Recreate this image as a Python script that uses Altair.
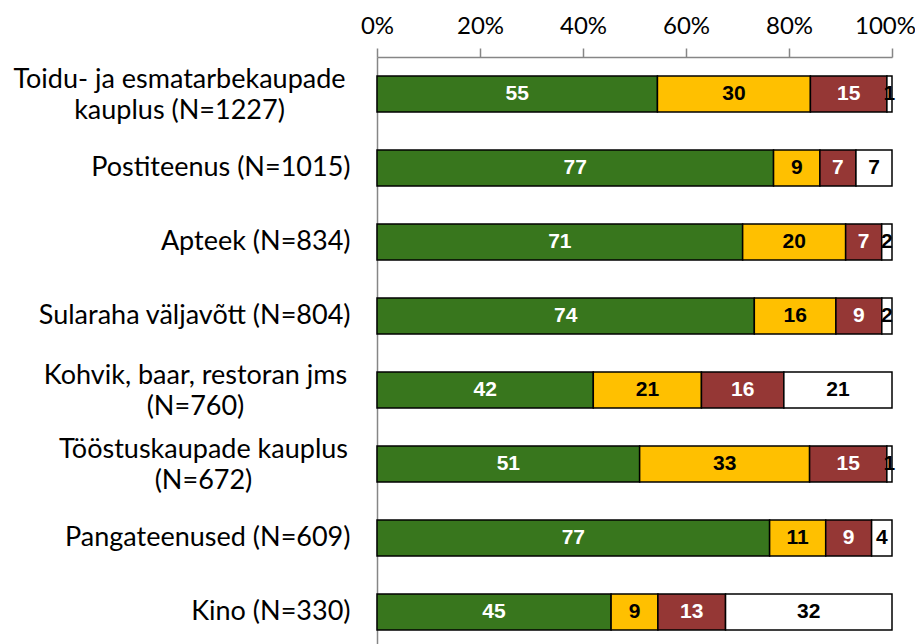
import altair as alt
import pandas as pd

categories = [
    "Toidu- ja esmatarbekaupade\nkauplus (N=1227)",
    "Postiteenus (N=1015)",
    "Apteek (N=834)",
    "Sularaha väljavõtt (N=804)",
    "Kohvik, baar, restoran jms\n(N=760)",
    "Tööstuskaupade kauplus\n(N=672)",
    "Pangateenused (N=609)",
    "Kino (N=330)",
]
series = ["s1", "s2", "s3", "s4"]
colors = ["#38761D", "#FFC000", "#953735", "#FFFFFF"]
text_colors = ["white", "black", "white", "black"]
v1 = [55, 77, 71, 74, 42, 51, 77, 45]
v2 = [30, 9, 20, 16, 21, 33, 11, 9]
v3 = [15, 7, 7, 9, 16, 15, 9, 13]
v4 = [1, 7, 2, 2, 21, 1, 4, 32]
tick_values = [0, 0.2, 0.4, 0.6, 0.8, 1.0]

rows = []
for i, c in enumerate(categories):
    for j, (s, vals) in enumerate(zip(series, [v1, v2, v3, v4])):
        rows.append({"cat": c, "series": s, "order": j, "value": vals[i],
                     "tcolor": text_colors[j]})
df = pd.DataFrame(rows)

t1 = "indexof(datum.value, 'Toidu') == 0"
t2 = "indexof(datum.value, 'Kohvik') == 0"
t3 = "indexof(datum.value, 'Tööstus') == 0"
tm = f"({t1}) || ({t2}) || ({t3})"

base = alt.Chart(df).transform_stack(
    stack="value", groupby=["cat"], sort=[alt.SortField("order")],
    as_=["v0", "v1"], offset="normalize"
).transform_calculate(mid="(datum.v0 + datum.v1) / 2")

yaxis = alt.Axis(
    labelExpr="split(datum.label, '\\n')", labelFont="Lato",
    labelFontSize=27, labelColor="black",
    labelAlign={"condition": {"test": tm, "value": "center"}, "value": "right"},
    labelPadding={"condition": [
        {"test": t1, "value": 198},
        {"test": t2, "value": 182},
        {"test": t3, "value": 174},
    ], "value": 27},
    labelOffset={"condition": {"test": tm, "value": -14}, "value": 0},
    ticks=False, domainColor="#868686", domainWidth=1.5,
    labelLineHeight=31, labelLimit=400,
)

yenc = alt.Y("cat:N", sort=categories, title=None,
             scale=alt.Scale(paddingInner=0.514, paddingOuter=0.257),
             axis=yaxis)

bars = base.mark_bar(stroke="black", strokeWidth=1.5).encode(
    x=alt.X("v0:Q", title=None,
            scale=alt.Scale(domain=[0, 1], nice=False),
            axis=alt.Axis(orient="top", format=".0%", values=tick_values,
                          labelFont="Lato", labelFontSize=24, labelColor="black",
                          labelOffset={"condition": {"test": "datum.value >= 1", "value": -7},
                                       "value": 0},
                          tickColor="#868686", tickSize=9, tickWidth=1.5,
                          domainColor="#868686", domainWidth=1.5, grid=False,
                          labelPadding=10, labelFlush=False)),
    x2="v1:Q",
    y=yenc,
    color=alt.Color("series:N", scale=alt.Scale(domain=series, range=colors), legend=None),
)

labels = base.mark_text(font="Liberation Sans", fontWeight="bold", fontSize=21,
                        baseline="middle", align="center").encode(
    x="mid:Q",
    y=alt.Y("cat:N", sort=categories),
    text="value:Q",
    color=alt.Color("tcolor:N", scale=None),
)

chart = (bars + labels).properties(
    width=515, height=592,
    padding={"left": 369, "top": 49, "right": 23, "bottom": 0},
    autosize=alt.AutoSizeParams(type="none"),
).configure_view(stroke=None)

chart.save("out.html", embed_options={"renderer": "svg", "actions": False})
